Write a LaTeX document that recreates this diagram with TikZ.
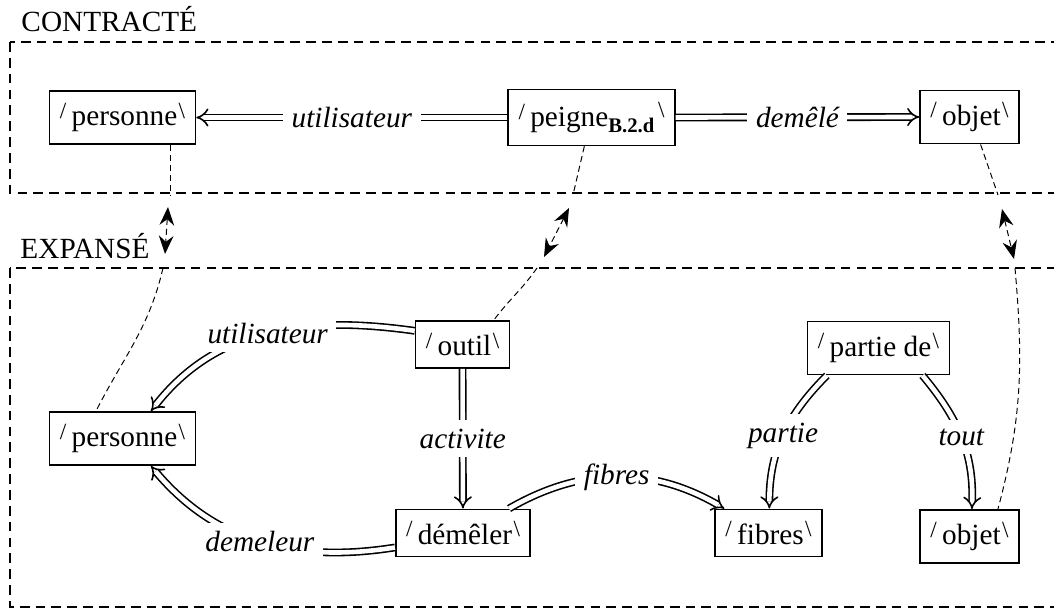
\documentclass[tikz,border=0pt]{standalone}
\usepackage{fontspec}
\setmainfont{Liberation Serif}
\usetikzlibrary{arrows.meta}
\newcommand{\lsl}{\raisebox{3pt}{\fontsize{9.5}{9}\selectfont/}\kern2.2pt}
\newcommand{\rsl}{\kern0.6pt\raisebox{3pt}{\fontsize{9.5}{9}\selectfont\textbackslash}}
\newcommand{\rslhi}{\kern1.5pt\raisebox{4pt}{\fontsize{9.5}{9}\selectfont\textbackslash}}
\tikzset{
  nbox/.style={draw, line width=0.7pt, inner xsep=4.2pt, inner ysep=5pt, font=\fontsize{12}{14}\selectfont},
  drel/.style={double, double distance=1.9pt, line width=0.65pt, -{Implies[scale=1.15]}},
  rlab/.style={fill=white, inner sep=3.5pt, font=\fontsize{12}{14}\selectfont\itshape},
  zone/.style={line width=0.8pt, dash pattern=on 4pt off 2.5pt},
  dlink/.style={line width=0.4pt, dash pattern=on 2.5pt off 1.6pt},
  dlinkarr/.style={dlink, {Stealth[length=7.5pt,width=6pt,inset=2.5pt]}-{Stealth[length=7.5pt,width=6pt,inset=2.5pt]}},
  ztitle/.style={anchor=base west, inner sep=0pt, font=\fontsize{12}{14}\selectfont},
}
\begin{document}
\begin{tikzpicture}[x=0.41pt,y=0.41pt]
\clip (0,0) rectangle (1054,-608);

% frames
\draw[zone] (10,-42) rectangle (1090,-193);
\draw[zone] (10,-268) rectangle (1090,-607);
\node[ztitle] (tc) at (21,-32) {CONTRACTÉ};
\node[ztitle] (te) at (20,-258) {EXPANSÉ};

% contracted nodes
\node[nbox] (pc) at (122.5,-117.5) {\lsl personne\rsl};
\node[nbox] (pg) at (591.5,-117.5) {\lsl peigne\raisebox{-2.5pt}{\fontsize{8.5}{9}\selectfont\bfseries B.2.d}\rslhi};
\node[nbox] (ob) at (969.5,-117) {\lsl objet\rsl};

\draw[drel] (pg.west) -- node[rlab] {utilisateur} (pc.east);
\draw[drel] (pg.east) -- node[rlab] {demêlé} (ob.west);

% expanded nodes
\node[nbox] (pe) at (122.5,-438.5) {\lsl personne\rsl};
\node[nbox] (ou) at (462.5,-344.5) {\lsl outil\rsl};
\node[nbox] (dm) at (463,-533) {\lsl démêler\rsl};
\node[nbox] (fi) at (768.5,-533) {\lsl fibres\rsl};
\node[nbox] (pd) at (878.5,-348) {\lsl partie de\rsl};
\node[nbox] (ob2) at (969.5,-536.5) {\lsl objet\rsl};

\draw[drel] (ou.164) to[out=172,in=52] node[rlab] {utilisateur} (pe.44);
\draw[drel] (dm.-168) to[out=189,in=-50] node[rlab] {demeleur} (pe.-44);
\draw[drel] (ou) -- node[rlab] {activite} (dm);
\draw[drel] (dm.28) to[bend left=30] node[rlab] {fibres} (fi.151);
\draw[drel] (pd.-152) to[out=-135,in=90] node[rlab] {partie} (fi.88);
\draw[drel] (pd.-32) to[out=-50,in=88] node[rlab] {tout} (ob2.85);

% correspondence links
\coordinate (l1a) at (170,-195);
\coordinate (l1b) at (168,-207);
\coordinate (l1c) at (165,-254);
\coordinate (l1d) at (163,-268);
\draw[dlink] (pc.south -| l1a) -- (l1a);
\draw[dlinkarr] (l1b) -- (l1c);
\draw[dlink] (l1d) to[out=-103,in=63] (pe.134);

\coordinate (l2a) at (573,-195);
\coordinate (l2b) at (569,-208);
\coordinate (l2c) at (544,-257);
\coordinate (l2d) at (537,-268);
\draw[dlink] (pg.-104) -- (l2a);
\draw[dlinkarr] (l2b) -- (l2c);
\draw[dlink] (l2d) to[out=-125,in=53] (ou.38);

\coordinate (l3a) at (998,-195);
\coordinate (l3b) at (1002,-209);
\coordinate (l3c) at (1014,-259);
\coordinate (l3d) at (1015,-268);
\draw[dlink] (ob.-68) -- (l3a);
\draw[dlinkarr] (l3b) -- (l3c);
\draw[dlink] (l3d) to[out=-85,in=75] (ob2.44);
\end{tikzpicture}
\end{document}
